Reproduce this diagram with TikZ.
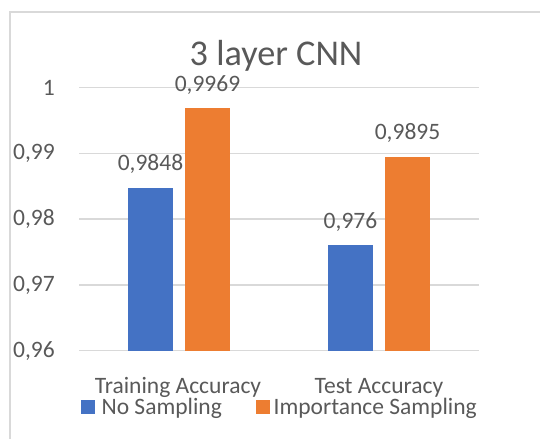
\documentclass[tikz,border=0pt]{standalone}
\usepackage{fontspec}
\setmainfont{Carlito}
\usetikzlibrary{positioning}

\definecolor{barblue}{HTML}{4472C4}
\definecolor{barorange}{HTML}{ED7D31}
\definecolor{gridgray}{HTML}{D9D9D9}
\definecolor{textgray}{HTML}{595959}

\begin{document}
\begin{tikzpicture}[
    x=1bp, y=-1bp,
    font=\fontsize{23.6}{23.6}\selectfont,
    gridline/.style={draw=gridgray, line width=1.4bp},
    frameline/.style={draw=gridgray, line width=1.2bp},
    ticklabel/.style={text=textgray, anchor=east, inner sep=0pt},
    vallabel/.style={text=textgray, anchor=base, inner sep=0pt},
    catlabel/.style={text=textgray, anchor=base, inner sep=0pt},
    legtext/.style={text=textgray, anchor=base west, inner sep=0pt},
    legkey/.style={minimum size=14bp, inner sep=0pt, anchor=north west}
]
    \useasboundingbox (0,0) rectangle (540,439);

    % chart frame
    \draw[frameline] (540,12) -- (10,12) -- (10,439);

    % title
    \node[text=textgray, anchor=base, inner sep=0pt, font=\fontsize{36.4}{36.4}\selectfont] (title) at (276,66) {3 layer CNN};

    % gridlines and axis labels
    \foreach \yy/\lab/\nm in {87.5/1/t100, 153.3/{0,99}/t099, 219.1/{0,98}/t098, 284.9/{0,97}/t097, 350.7/{0,96}/t096} {
        \draw[gridline] (79,\yy) -- (479,\yy);
        \node[ticklabel] (\nm) at (55,\yy) {\lab};
    }

    % bars
    \fill[barblue]   (128.3,350.7) rectangle (172.7,187.6);
    \fill[barorange] (185,350.7) rectangle (230,108.2);
    \fill[barblue]   (328,350.7) rectangle (373,245.4);
    \fill[barorange] (385,350.7) rectangle (430,156.7);

    % data labels
    \node[vallabel] (v_train_no) at (150.5,170.6) {0,9848};
    \node[vallabel] (v_train_is) at (207.5,91.2) {0,9969};
    \node[vallabel] (v_test_no)  at (350.5,228.4) {0,976};
    \node[vallabel] (v_test_is)  at (407.5,139.7) {0,9895};

    % categories
    \node[catlabel] (cat_train) at (178,393) {Training Accuracy};
    \node[catlabel] (cat_test)  at (379,393) {Test Accuracy};

    % legend
    \node[legkey, fill=barblue] (key_no) at (81,400) {};
    \node[legtext] (leg_no) at ([xshift=6bp]key_no.south east) {No Sampling};
    \node[legkey, fill=barorange] (key_is) at (256,400) {};
    \node[legtext] (leg_is) at ([xshift=3bp]key_is.south east) {Importance Sampling};

\end{tikzpicture}
\end{document}
